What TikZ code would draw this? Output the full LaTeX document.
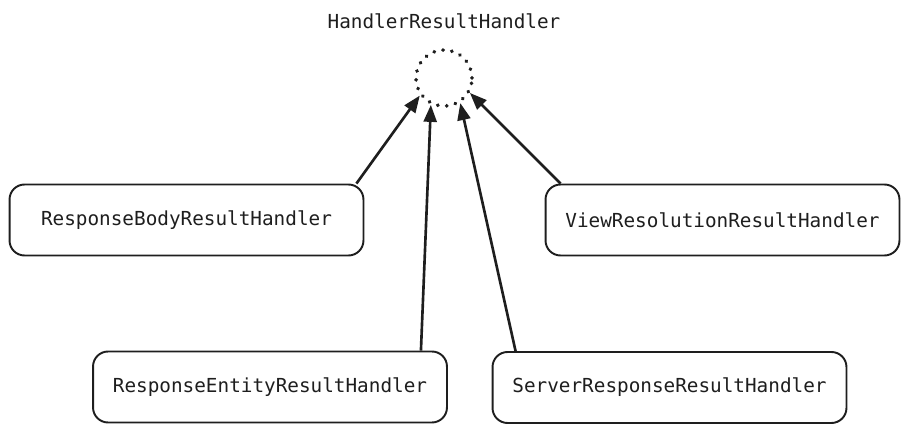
\documentclass[tikz,border=0pt]{standalone}
\usepackage{fontspec}
\setmonofont{DejaVu Sans Mono}
\usetikzlibrary{arrows.meta, positioning}
\definecolor{ink}{HTML}{1E1E1E}
\tikzset{
	->,
	>={Triangle[length=3.4mm,width=2.6mm]},
	handler/.style={draw=ink, line width=1.1pt, rounded corners=0.3cm,
		minimum width=7.08cm, minimum height=1.42cm, text=ink,
		font=\ttfamily\fontsize{11}{13}\selectfont},
	hub/.style={circle, draw=ink, line width=2.2pt, minimum size=1.12cm,
		dash pattern=on 0.1pt off 5pt, line cap=round},
	link/.style={draw=ink, line width=1.5pt},
	baseline}

\begin{document}
\begin{tikzpicture}[x=0.02cm, y=-0.02cm]
		\useasboundingbox (0,0) rectangle (910,435);
		
		%Top
		\node[hub] (hub) at (444,78) {};
		\node[above=0.26cm of hub, text=ink, font=\ttfamily\fontsize{11}{13}\selectfont] (title) {HandlerResultHandler};
		
		%Middle
		\node[handler] (body) at (186.5,220) {ResponseBodyResultHandler};
		\node[handler] (view) at (722.5,220) {ViewResolutionResultHandler};
		
		%Bottom
		\node[handler] (entity) at (270,387) {ResponseEntityResultHandler};
		\node[handler] (server) at (669.5,387.5) {ServerResponseResultHandler};
		
		\draw[link] ([xshift=-0.16cm]body.north east) -- (hub.216);
		\draw[link] ([xshift=-0.54cm]entity.north east) -- (hub.244);
		\draw[link] ([xshift=0.48cm]server.north west) -- (hub.303);
		\draw[link] ([xshift=0.32cm]view.north west) -- (hub.330);
		
	\end{tikzpicture}
\end{document}
